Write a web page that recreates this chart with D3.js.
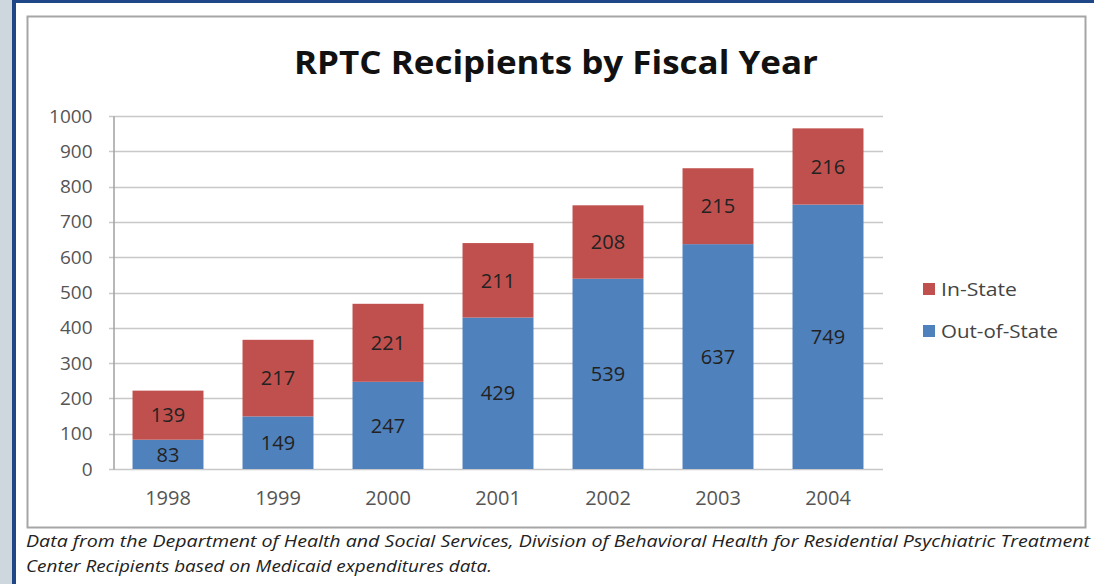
<!DOCTYPE html>
<html>
<head>
<meta charset="utf-8">
<script src="https://cdn.jsdelivr.net/npm/d3@7"></script>
<style>
    body { margin: 0; background: #fff; }
    svg { display: block; font-family: "Open Sans", sans-serif; }
</style>
</head>
<body>
<div id="chart"></div>
<script>
// DATA
const years = ["1998", "1999", "2000", "2001", "2002", "2003", "2004"];
const outOfState = [83, 149, 247, 429, 539, 637, 749];
const inState = [139, 217, 221, 211, 208, 215, 216];
const yTicks = [0, 100, 200, 300, 400, 500, 600, 700, 800, 900, 1000];
const seriesNames = ["Out-of-State", "In-State"];
const colors = {"Out-of-State": "#4f81bd", "In-State": "#c0504d"};

const width = 1094;
const height = 584;
const plot = {left: 113, right: 883, top: 116, bottom: 469};

const svg = d3.select("#chart")
    .append("svg")
    .attr("width", width)
    .attr("height", height);

// frame
svg.append("rect").attr("x", 0).attr("y", 0).attr("width", 12).attr("height", height).attr("fill", "#cfd7de");
svg.append("rect").attr("x", 12).attr("y", 0).attr("width", 4).attr("height", height).attr("fill", "#1f4788");
svg.append("rect").attr("x", 12).attr("y", 0).attr("width", width - 12).attr("height", 3).attr("fill", "#1f4788");

svg.append("rect")
    .attr("x", 27.5).attr("y", 16.5)
    .attr("width", 1058).attr("height", 511)
    .attr("fill", "#fff")
    .attr("stroke", "#a6a6a6")
    .attr("stroke-width", 2);

svg.append("text")
    .attr("x", 556)
    .attr("y", 74)
    .attr("text-anchor", "middle")
    .attr("font-size", 33)
    .attr("font-weight", "bold")
    .attr("fill", "#111")
    .attr("textLength", 524)
    .attr("lengthAdjust", "spacingAndGlyphs")
    .text("RPTC Recipients by Fiscal Year");

// scales
const x = d3.scaleBand()
    .domain(years)
    .range([plot.left, plot.right])
    .paddingInner(0.355)
    .paddingOuter(0.1775);

const y = d3.scaleLinear()
    .domain([0, 1000])
    .range([plot.bottom, plot.top]);

// gridlines
svg.append("g")
    .selectAll("line")
    .data(yTicks)
    .join("line")
    .attr("x1", plot.left - 4)
    .attr("x2", plot.right)
    .attr("y1", d => Math.round(y(d)) + 0.5)
    .attr("y2", d => Math.round(y(d)) + 0.5)
    .attr("stroke", "#c8c8c8")
    .attr("stroke-width", 1.5);

// y axis
const yAxis = svg.append("g")
    .attr("transform", `translate(${plot.left + 0.5},0)`)
    .call(d3.axisLeft(y).tickValues(yTicks).tickFormat(d3.format("d")).tickSize(0).tickPadding(21));
yAxis.select(".domain").attr("stroke", "#a0a0a0").attr("stroke-width", 1.5);
yAxis.selectAll("text").attr("font-size", 19).attr("fill", "#555").attr("font-family", "Open Sans");

// x axis labels
const xAxis = svg.append("g")
    .attr("transform", `translate(0,${plot.bottom})`)
    .call(d3.axisBottom(x).tickSize(0).tickPadding(22));
xAxis.select(".domain").remove();
xAxis.selectAll("text").attr("font-size", 20).attr("fill", "#555").attr("font-family", "Open Sans");

// stacked bars
const table = years.map((yr, i) => ({year: yr, "Out-of-State": outOfState[i], "In-State": inState[i]}));
const stacked = d3.stack().keys(seriesNames)(table);

const layers = svg.append("g")
    .selectAll("g")
    .data(stacked)
    .join("g")
    .attr("fill", d => colors[d.key]);

layers.selectAll("rect")
    .data(d => d)
    .join("rect")
    .attr("x", d => x(d.data.year))
    .attr("width", x.bandwidth())
    .attr("y", d => y(d[1]))
    .attr("height", d => y(d[0]) - y(d[1]));

layers.selectAll("text")
    .data(d => d)
    .join("text")
    .attr("x", d => x(d.data.year) + x.bandwidth() / 2)
    .attr("y", d => (y(d[0]) + y(d[1])) / 2)
    .attr("dy", "0.36em")
    .attr("text-anchor", "middle")
    .attr("font-size", 20)
    .attr("fill", "#222")
    .text(d => d[1] - d[0]);

// legend
const legend = svg.append("g")
    .selectAll("g")
    .data(["In-State", "Out-of-State"])
    .join("g")
    .attr("transform", (d, i) => `translate(923,${283 + i * 42})`);

legend.append("rect")
    .attr("width", 12)
    .attr("height", 12)
    .attr("fill", d => colors[d]);

legend.append("text")
    .attr("x", 18)
    .attr("y", 6)
    .attr("dy", "0.36em")
    .attr("font-size", 19)
    .attr("fill", "#444")
    .attr("textLength", d => d === "In-State" ? 76 : 117)
    .attr("lengthAdjust", "spacingAndGlyphs")
    .text(d => d);

// footnote
const notes = [
    "Data from the Department of Health and Social Services, Division of Behavioral Health for Residential Psychiatric Treatment",
    "Center Recipients based on Medicaid expenditures data."
];
svg.append("g")
    .selectAll("text")
    .data(notes)
    .join("text")
    .attr("x", 26)
    .attr("y", (d, i) => 547 + i * 25)
    .attr("font-size", 15.5)
    .attr("font-style", "italic")
    .attr("fill", "#222")
    .attr("textLength", (d, i) => i === 0 ? 1064 : 466)
    .attr("lengthAdjust", "spacingAndGlyphs")
    .text(d => d);
</script>
</body>
</html>
